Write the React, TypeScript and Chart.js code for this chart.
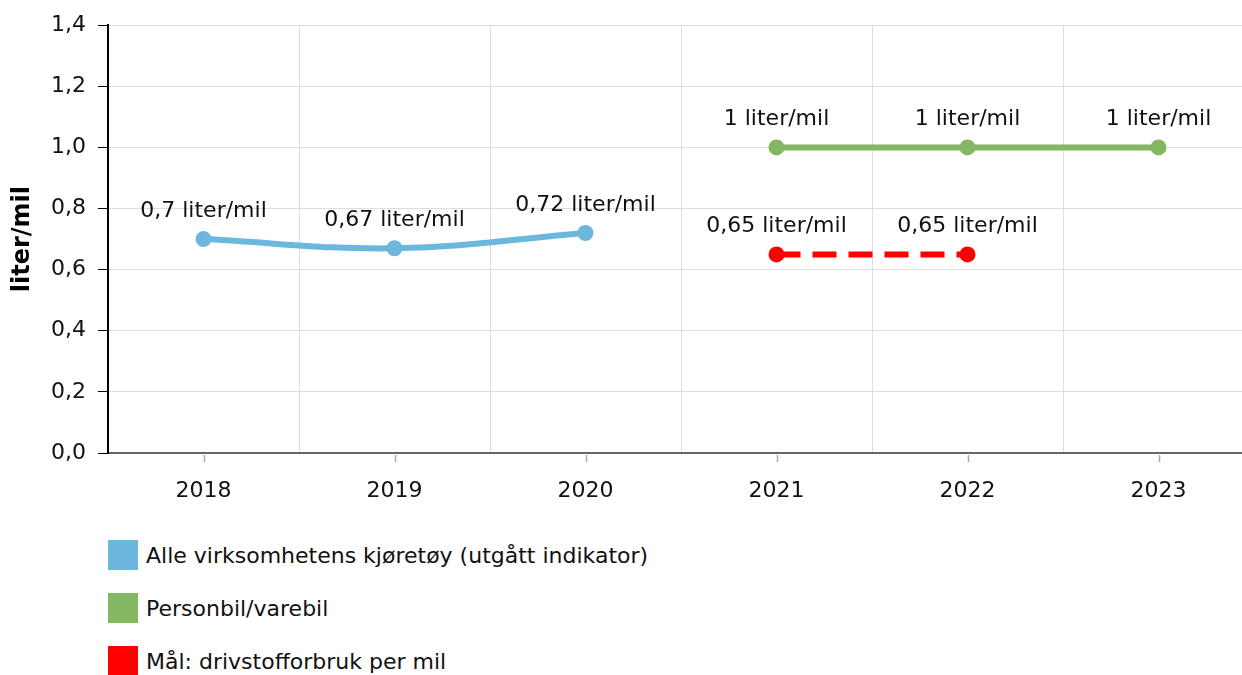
import React, { useEffect, useRef } from 'react';
import { Chart, registerables } from 'chart.js';

Chart.register(...registerables);

const categories = ['2018', '2019', '2020', '2021', '2022', '2023'];
const allVehicles = [0.7, 0.67, 0.72, null, null, null];
const carVan = [null, null, null, 1.0, 1.0, 1.0];
const target = [null, null, null, 0.65, 0.65, null];
const seriesNames = [
  'Alle virksomhetens kjøretøy (utgått indikator)',
  'Personbil/varebil',
  'Mål: drivstofforbruk per mil',
];
const seriesColors = ['#6bb7de', '#84b761', '#ff0000'];
const unit = 'liter/mil';
const yMin = 0;
const yMax = 1.4;
const yStep = 0.2;

const FONT = '"DejaVu Sans", Verdana, sans-serif';
const TEXT = '#111';
const fmt = (v: number) => String(v).replace('.', ',');

const labelPlugin = {
  id: 'pointLabels',
  afterDatasetsDraw(chart: any) {
    const ctx = chart.ctx;
    ctx.save();
    ctx.font = `22px ${FONT}`;
    ctx.fillStyle = TEXT;
    ctx.textAlign = 'center';
    ctx.textBaseline = 'middle';
    chart.data.datasets.forEach((ds: any, i: number) => {
      const meta = chart.getDatasetMeta(i);
      meta.data.forEach((pt: any, j: number) => {
        const v = ds.data[j];
        if (v == null) return;
        ctx.fillText(`${fmt(v)} ${unit}`, pt.x, pt.y - 28);
      });
    });
    ctx.restore();
  },
};

const tickPlugin = {
  id: 'centerTicks',
  afterDraw(chart: any) {
    const ctx = chart.ctx;
    const xs = chart.scales.x;
    const bottom = chart.chartArea.bottom;
    ctx.save();
    ctx.strokeStyle = '#aaaaaa';
    ctx.lineWidth = 1.5;
    categories.forEach((_, i) => {
      const px = Math.round(xs.getPixelForValue(i)) + 0.5;
      ctx.beginPath();
      ctx.moveTo(px, bottom + 2);
      ctx.lineTo(px, bottom + 9);
      ctx.stroke();
    });
    ctx.restore();
  },
};

export default function App() {
  const ref = useRef<HTMLCanvasElement>(null);

  useEffect(() => {
    if (!ref.current) return;
    const mk = (i: number, data: (number | null)[], extra: any = {}) => ({
      label: seriesNames[i],
      data,
      borderColor: seriesColors[i],
      backgroundColor: seriesColors[i],
      pointBackgroundColor: seriesColors[i],
      pointBorderColor: seriesColors[i],
      pointRadius: 8,
      pointBorderWidth: 0,
      borderWidth: 6,
      spanGaps: false,
      ...extra,
    });
    const chart = new Chart(ref.current, {
      type: 'line',
      data: {
        labels: categories,
        datasets: [
          mk(0, allVehicles, { tension: 0.4 }),
          mk(1, carVan, { tension: 0 }),
          mk(2, target, { tension: 0, borderDash: [24, 12] }),
        ],
      },
      options: {
        responsive: false,
        animation: false,
        events: [],
        layout: { padding: { top: 24, right: 2, left: 0, bottom: 0 } },
        plugins: {
          legend: { display: false },
          tooltip: { enabled: false },
        },
        scales: {
          x: {
            type: 'category',
            offset: true,
            grid: {
              offset: true,
              color: '#dddddd',
              lineWidth: 1,
              drawTicks: false,
            },
            border: { color: '#666666', width: 2 },
            ticks: {
              padding: 25,
              color: TEXT,
              font: { family: FONT, size: 22 },
              maxRotation: 0,
            },
            afterFit: (s: any) => {
              s.height = 67;
            },
          },
          y: {
            min: yMin,
            max: yMax,
            grid: {
              color: '#dddddd',
              lineWidth: 1,
              tickColor: '#000',
              tickLength: 10,
            },
            border: { color: '#000', width: 2 },
            ticks: {
              stepSize: yStep,
              padding: 12,
              color: TEXT,
              font: { family: FONT, size: 22 },
              callback: (v: any) => Number(v).toFixed(1).replace('.', ','),
            },
            title: {
              display: true,
              text: unit,
              color: '#000',
              font: { family: FONT, size: 24, weight: 'bold' },
              padding: { top: 8, bottom: 0 },
            },
            afterFit: (s: any) => {
              s.width = 108;
            },
          },
        },
      },
      plugins: [labelPlugin, tickPlugin],
    });
    return () => chart.destroy();
  }, []);

  return (
    <div
      style={{
        position: 'fixed',
        left: 0,
        top: 0,
        width: 1242,
        height: 675,
        overflow: 'hidden',
        background: '#fff',
        fontFamily: FONT,
      }}
    >
      <canvas ref={ref} width={1262} height={520} style={{ display: 'block' }} />
      {seriesNames.map((name, i) => (
        <div
          key={name}
          style={{
            position: 'absolute',
            left: 108,
            top: 540 + i * 53,
            height: 30,
            display: 'flex',
            alignItems: 'center',
            fontSize: 22,
            color: TEXT,
            whiteSpace: 'nowrap',
          }}
        >
          <span
            style={{
              display: 'inline-block',
              width: 30,
              height: 30,
              background: seriesColors[i],
              marginRight: 8,
            }}
          />
          {name}
        </div>
      ))}
    </div>
  );
}
